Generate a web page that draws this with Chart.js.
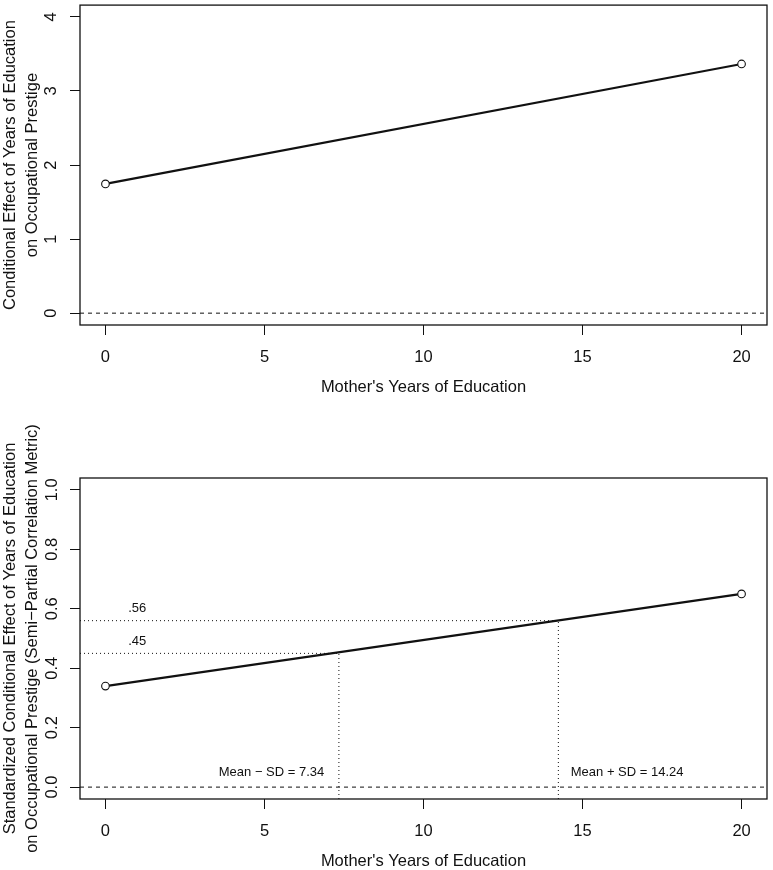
<!DOCTYPE html>
<html>
<head>
<meta charset="utf-8">
<script src="https://cdn.jsdelivr.net/npm/chart.js@4.4.1/dist/chart.umd.min.js"></script>
<style>
  html, body { margin: 0; padding: 0; background: #fff; }
  #wrap { position: relative; width: 773px; height: 870px; }
  canvas { position: absolute; left: 0; }
  #top { top: 0; }
  #bottom { top: 405px; }
</style>
</head>
<body>
<div id="wrap">
  <canvas id="top" width="773" height="405"></canvas>
  <canvas id="bottom" width="773" height="465"></canvas>
</div>
<script>
// mother's years of education (x) and the two fitted effects at the ends
const xEnds = [0, 20];
const effectRaw = [1.745, 3.365];
const effectStd = [0.34, 0.65];

const xTicks = [0, 5, 10, 15, 20];
const topYTicks = [0, 1, 2, 3, 4];
const bottomYTicks = [0, 0.2, 0.4, 0.6, 0.8, 1.0];
const bottomYLabels = ['0.0', '0.2', '0.4', '0.6', '0.8', '1.0'];

// mean -/+ SD of mother's education, and the standardized effect there
const sdPoints = [7.34, 14.24];
const sdEffects = [0.45, 0.56];

// annotation texts (data coordinates)
const annoText = ['.56', '.45', 'Mean \u2212 SD = 7.34', 'Mean + SD = 14.24'];
const annoX = [1, 1, 6.88, 14.63];
const annoY = [0.60, 0.49, 0.05, 0.05];
const annoAlign = ['center', 'center', 'right', 'left'];

const xRange = [-0.8, 20.8];
const topYRange = [-0.16, 4.16];
const bottomYRange = [-0.04, 1.04];

const FONT = '"Liberation Sans", Arial, Helvetica, sans-serif';
const INK = '#111';

function pts(xs, ys) {
  return xs.map((x, i) => ({ x: x, y: ys[i] }));
}

// box around the plot region, like R's bty="o"
const boxPlugin = {
  id: 'box',
  afterDraw(chart) {
    const a = chart.chartArea;
    const ctx = chart.ctx;
    ctx.save();
    ctx.strokeStyle = INK;
    ctx.lineWidth = 1.3;
    ctx.strokeRect(a.left, a.top, a.right - a.left, a.bottom - a.top);
    ctx.restore();
  }
};

const annoPlugin = {
  id: 'anno',
  afterDatasetsDraw(chart) {
    if (chart.canvas.id !== 'bottom') return;
    const ctx = chart.ctx;
    const xs = chart.scales.x, ys = chart.scales.y;
    ctx.save();
    ctx.fillStyle = INK;
    ctx.font = '13px ' + FONT;
    ctx.textBaseline = 'middle';
    annoText.forEach((t, i) => {
      ctx.textAlign = annoAlign[i];
      ctx.fillText(t, xs.getPixelForValue(annoX[i]), ys.getPixelForValue(annoY[i]));
    });
    ctx.restore();
  }
};

function noPad(s) {
  s.paddingTop = 0; s.paddingBottom = 0; s.paddingLeft = 0; s.paddingRight = 0;
}

function makeChart(id, opts) {
  const datasets = [
    {
      // zero reference line
      data: pts(xRange, [0, 0]),
      borderColor: INK, borderWidth: 1, borderDash: [4, 4],
      pointRadius: 0
    },
    ...opts.extra,
    {
      data: pts(xEnds, opts.values),
      borderColor: INK, borderWidth: 2.2,
      pointRadius: 3.8, pointBorderWidth: 1.1,
      pointBorderColor: INK, pointBackgroundColor: '#fff'
    }
  ];
  return new Chart(document.getElementById(id), {
    type: 'line',
    data: { datasets: datasets },
    plugins: [boxPlugin, annoPlugin],
    options: {
      responsive: false,
      animation: false,
      devicePixelRatio: 1,
      layout: { padding: { top: opts.padTop, right: 6, left: 0, bottom: 0 } },
      plugins: { legend: { display: false }, tooltip: { enabled: false } },
      scales: {
        x: {
          type: 'linear', min: xRange[0], max: xRange[1],
          afterBuildTicks: s => { s.ticks = xTicks.map(v => ({ value: v })); },
          afterFit: s => { s.height = opts.xHeight; noPad(s); },
          border: { display: false },
          grid: { drawOnChartArea: false, drawTicks: true, tickLength: 10, color: INK, lineWidth: 1 },
          ticks: { color: INK, font: { family: FONT, size: 16.5 }, padding: 13, autoSkip: false, maxRotation: 0 },
          title: {
            display: true, text: "Mother's Years of Education", color: INK,
            font: { family: FONT, size: 16.5, lineHeight: 1 },
            padding: { top: 0, bottom: opts.xTitlePad }
          }
        },
        y: {
          type: 'linear', min: opts.yRange[0], max: opts.yRange[1],
          afterBuildTicks: s => { s.ticks = opts.yTicks.map(v => ({ value: v })); },
          afterFit: s => { s.width = 80; noPad(s); },
          border: { display: false },
          grid: { drawOnChartArea: false, drawTicks: true, tickLength: 10, color: INK, lineWidth: 1 },
          ticks: {
            color: INK, font: { family: FONT, size: 16.5 },
            minRotation: 90, maxRotation: 90, crossAlign: 'center',
            padding: opts.yTickPad, autoSkip: false,
            callback: opts.yLabel
          },
          title: {
            display: true, text: opts.yTitle, color: INK,
            font: { family: FONT, size: 16.5, lineHeight: 1.3 },
            padding: { top: 0, bottom: 0 }
          }
        }
      }
    }
  });
}

makeChart('top', {
  values: effectRaw,
  extra: [],
  padTop: 3,
  xHeight: 80,
  xTitlePad: 9,
  yRange: topYRange,
  yTicks: topYTicks,
  yTickPad: 14,
  yLabel: (v, i) => String(topYTicks[i]),
  yTitle: ['Conditional Effect of Years of Education', 'on Occupational Prestige']
});

const dotted = { borderColor: INK, borderWidth: 1, borderDash: [1, 3], pointRadius: 0 };
makeChart('bottom', {
  values: effectStd,
  extra: [
    Object.assign({ data: pts([xRange[0], sdPoints[1]], [sdEffects[1], sdEffects[1]]) }, dotted),
    Object.assign({ data: pts([xRange[0], sdPoints[0]], [sdEffects[0], sdEffects[0]]) }, dotted),
    Object.assign({ data: pts([sdPoints[0], sdPoints[0]], [bottomYRange[0], sdEffects[0]]) }, dotted),
    Object.assign({ data: pts([sdPoints[1], sdPoints[1]], [bottomYRange[0], sdEffects[1]]) }, dotted)
  ],
  padTop: 73,
  xHeight: 71,
  xTitlePad: 0,
  yRange: bottomYRange,
  yTicks: bottomYTicks,
  yTickPad: 6,
  yLabel: (v, i) => bottomYLabels[i],
  yTitle: ['Standardized Conditional Effect of Years of Education', 'on Occupational Prestige (Semi\u2212Partial Correlation Metric)']
});
</script>
</body>
</html>
